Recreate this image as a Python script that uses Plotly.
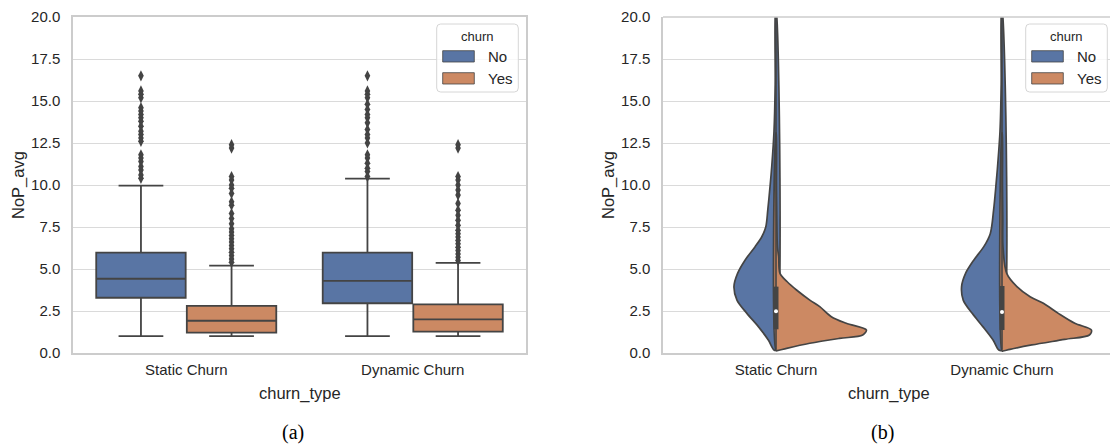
import plotly.graph_objects as go

W, H = 1110, 447

categories = ["Static Churn", "Dynamic Churn"]
hues = ["No", "Yes"]
y_ticks = [0.0, 2.5, 5.0, 7.5, 10.0, 12.5, 15.0, 17.5, 20.0]

# ---- box plot statistics, one value per category ----
no_q1 = [3.29, 2.96]
no_median = [4.42, 4.29]
no_q3 = [5.97, 5.97]
no_lower = [1.0, 1.0]
no_upper = [9.96, 10.38]

yes_q1 = [1.21, 1.27]
yes_median = [1.92, 2.0]
yes_q3 = [2.80, 2.90]
yes_lower = [1.0, 1.0]
yes_upper = [5.2, 5.37]

static_no_outliers = [16.5, 15.6, 15.4, 15.2, 14.6, 14.4, 14.2, 14.0, 13.8, 13.5, 13.2,
                      13.0, 12.8, 12.6, 11.8, 11.6, 11.4, 11.1, 10.9, 10.6, 10.4]
static_yes_outliers = [12.4, 12.2, 10.5, 10.3, 10.0, 9.8, 9.5, 9.0, 8.8, 8.3, 8.0, 7.7,
                       7.4, 7.2, 7.0, 6.8, 6.6, 6.4, 6.2, 6.0, 5.8, 5.6, 5.4]
dynamic_no_outliers = [16.5, 15.6, 15.4, 15.2, 14.8, 14.5, 14.2, 14.0, 13.7, 13.3, 13.0,
                       12.8, 12.5, 11.8, 11.6, 11.3, 11.0, 10.8, 10.5]
dynamic_yes_outliers = [12.4, 12.2, 10.5, 10.3, 10.0, 9.7, 9.4, 8.9, 8.5, 8.2, 7.9, 7.6,
                        7.3, 7.1, 6.9, 6.7, 6.5, 6.3, 6.1, 5.9, 5.7, 5.5]

# ---- split violin density profiles (relative half-width at each level) ----
static_no_levels = [0.18, 0.77, 1.57, 2.36, 3.15, 3.95, 4.74, 5.54, 6.33, 6.92, 7.5, 8.5,
                    9.9, 11.1, 13.2, 16.0, 20.5]
static_no_density = [0.022, 0.085, 0.195, 0.322, 0.432, 0.465, 0.425, 0.341, 0.231, 0.157,
                     0.113, 0.091, 0.066, 0.047, 0.022, 0.009, 0.004]
static_yes_levels = [0.14, 0.28, 0.58, 0.87, 1.07, 1.37, 1.77, 2.16, 2.76, 3.15, 3.75, 4.24,
                     4.74, 5.73, 6.3, 8.0, 10.0, 13.1]
static_yes_density = [0.014, 0.118, 0.374, 0.703, 0.959, 1.0, 0.777, 0.612, 0.484, 0.374,
                      0.227, 0.124, 0.044, 0.030, 0.016, 0.009, 0.005, 0.002]
dynamic_no_levels = [0.18, 0.77, 1.57, 2.36, 3.15, 3.95, 4.74, 5.54, 6.33, 7.12, 8.5, 9.9,
                     11.1, 13.2, 16.0, 20.5]
dynamic_no_density = [0.036, 0.099, 0.212, 0.330, 0.429, 0.447, 0.403, 0.311, 0.201, 0.129,
                      0.093, 0.068, 0.049, 0.022, 0.009, 0.004]
dynamic_yes_levels = [0.12, 0.22, 0.48, 0.81, 1.07, 1.37, 1.77, 2.36, 2.96, 3.35, 3.95, 4.74,
                      6.33, 8.0, 10.0, 13.1]
dynamic_yes_density = [0.011, 0.088, 0.330, 0.692, 0.967, 0.989, 0.805, 0.623, 0.458, 0.311,
                       0.165, 0.052, 0.011, 0.009, 0.005, 0.002]

# inner box of the violins (both hues pooled)
inner_q1 = [1.41, 1.37]
inner_median = [2.48, 2.44]
inner_q3 = [3.95, 3.99]
inner_low = [0.2, 0.2]
inner_high = [21.0, 21.0]

# ---- styling ----
BLUE = "#5975A4"
ORANGE = "#CC8963"
EDGE = "#444444"
SPINE = "#cccccc"
GRID = "#dadada"
TEXT = "#262626"
SANS = "Liberation Sans, Arial, sans-serif"
SERIF = "Liberation Serif, Times New Roman, serif"

HUE_OFFSET = 0.2
BOX_WIDTH = 0.395
VIOLIN_HALF = 0.4


def px(x):
    return x / W


def py(y):
    return 1 - y / H


fig = go.Figure()

# ---------------- (a) box plots ----------------
for hue, color, q1, med, q3, lo, hi, sign in [
    ("No", BLUE, no_q1, no_median, no_q3, no_lower, no_upper, -1),
    ("Yes", ORANGE, yes_q1, yes_median, yes_q3, yes_lower, yes_upper, 1),
]:
    fig.add_trace(go.Box(
        x=[i + sign * HUE_OFFSET for i in range(len(categories))],
        q1=q1, median=med, q3=q3, lowerfence=lo, upperfence=hi,
        width=BOX_WIDTH, whiskerwidth=0.5, boxpoints=False,
        fillcolor=color, line=dict(color=EDGE, width=1.8),
        xaxis="x", yaxis="y", showlegend=False, hoverinfo="skip",
    ))

for center, groups in [(0, [(static_no_outliers, -1), (static_yes_outliers, 1)]),
                       (1, [(dynamic_no_outliers, -1), (dynamic_yes_outliers, 1)])]:
    for vals, sign in groups:
        fig.add_trace(go.Scatter(
            x=[center + sign * HUE_OFFSET] * len(vals), y=vals, mode="markers",
            marker=dict(symbol="diamond-tall", size=8, color=EDGE, line=dict(width=0)),
            xaxis="x", yaxis="y", showlegend=False, hoverinfo="skip",
        ))

# ---------------- (b) split violins ----------------
violins = [
    (0, static_no_levels, static_no_density, -1, BLUE),
    (0, static_yes_levels, static_yes_density, 1, ORANGE),
    (1, dynamic_no_levels, dynamic_no_density, -1, BLUE),
    (1, dynamic_yes_levels, dynamic_yes_density, 1, ORANGE),
]
for center, levels, dens, sign, color in violins:
    xs = [center + sign * VIOLIN_HALF * d for d in dens] + [center, center]
    ys = list(levels) + [levels[-1], levels[0]]
    xs.append(xs[0])
    ys.append(ys[0])
    fig.add_trace(go.Scatter(
        x=xs, y=ys, mode="lines", fill="toself", fillcolor=color,
        line=dict(color=EDGE, width=1.7, shape="spline", smoothing=0.9),
        xaxis="x2", yaxis="y2", showlegend=False, hoverinfo="skip",
    ))

for i in range(len(categories)):
    fig.add_trace(go.Scatter(
        x=[i, i], y=[inner_low[i], inner_high[i]], mode="lines",
        line=dict(color=EDGE, width=1.6), xaxis="x2", yaxis="y2",
        showlegend=False, hoverinfo="skip",
    ))
    fig.add_trace(go.Scatter(
        x=[i, i], y=[inner_q1[i], inner_q3[i]], mode="lines",
        line=dict(color=EDGE, width=5), xaxis="x2", yaxis="y2",
        showlegend=False, hoverinfo="skip",
    ))
    fig.add_trace(go.Scatter(
        x=[i], y=[inner_median[i]], mode="markers",
        marker=dict(color="white", size=4, line=dict(width=0)),
        xaxis="x2", yaxis="y2", showlegend=False, hoverinfo="skip",
    ))

# ---------------- axes ----------------
y_dom = [py(353), py(17)]
common_y = dict(
    range=[0, 20], tickvals=y_ticks, ticktext=[f"{v:.1f}" for v in y_ticks],
    showgrid=True, gridcolor=GRID, gridwidth=1.2, zeroline=False,
    showline=True, linecolor=SPINE, linewidth=1.5,
    ticks="outside", ticklen=8, tickcolor="rgba(0,0,0,0)", automargin=False,
    tickfont=dict(family=SANS, size=15, color=TEXT), fixedrange=True,
)
common_x = dict(
    tickvals=list(range(len(categories))), ticktext=categories,
    showgrid=False, zeroline=False, showline=True, linecolor=SPINE, linewidth=1.5,
    ticks="outside", ticklen=2, tickcolor="rgba(0,0,0,0)", automargin=False,
    tickfont=dict(family=SANS, size=15, color=TEXT), fixedrange=True,
)

fig.update_layout(
    width=W, height=H, margin=dict(l=0, r=0, t=0, b=0, autoexpand=False),
    paper_bgcolor="white", plot_bgcolor="white",
    xaxis=dict(domain=[px(73), px(526)], range=[-0.5, 1.5], anchor="y", mirror=True, **common_x),
    yaxis=dict(domain=y_dom, anchor="x", mirror=True, **common_y),
    xaxis2=dict(domain=[px(663), 1.0], range=[-0.5, 1.5 - 5 / 226], anchor="y2", **common_x),
    yaxis2=dict(domain=y_dom, anchor="x2", **common_y),
)

shapes = [
    # top spine of the right panel
    dict(type="line", xref="paper", yref="paper", x0=px(663), x1=1.0, y0=py(17), y1=py(17),
         line=dict(color=SPINE, width=1.5)),
]
annotations = []


def rounded_rect(x0, y0, x1, y1, r):
    # rounded rectangle path given in pixels, expressed in paper coordinates
    return (
        f"M {px(x0 + r)},{py(y0)} L {px(x1 - r)},{py(y0)} "
        f"Q {px(x1)},{py(y0)} {px(x1)},{py(y0 + r)} "
        f"L {px(x1)},{py(y1 - r)} Q {px(x1)},{py(y1)} {px(x1 - r)},{py(y1)} "
        f"L {px(x0 + r)},{py(y1)} Q {px(x0)},{py(y1)} {px(x0)},{py(y1 - r)} "
        f"L {px(x0)},{py(y0 + r)} Q {px(x0)},{py(y0)} {px(x0 + r)},{py(y0)} Z"
    )


# legends (one per panel)
for lx in [436.7, 1025.7]:
    shapes.append(dict(type="path", xref="paper", yref="paper",
                       path=rounded_rect(lx, 24, lx + 81.6, 92, 4),
                       fillcolor="rgba(255,255,255,0.8)", line=dict(color="#d6d6d6", width=1)))
    annotations.append(dict(x=px(lx + 40.5), y=py(36), xref="paper", yref="paper",
                            text="churn", showarrow=False, xanchor="center", yanchor="middle",
                            font=dict(family=SANS, size=13, color=TEXT)))
    for k, (hue, color) in enumerate(zip(hues, [BLUE, ORANGE])):
        top = 50.7 + k * 22
        shapes.append(dict(type="rect", xref="paper", yref="paper",
                           x0=px(lx + 6), x1=px(lx + 37.6), y0=py(top), y1=py(top + 11.3),
                           fillcolor=color, line=dict(color=EDGE, width=0.8)))
        annotations.append(dict(x=px(lx + 49), y=py(top + 5.8), xref="paper", yref="paper",
                                text=hue, showarrow=False, xanchor="left", yanchor="middle",
                                font=dict(family=SANS, size=15, color=TEXT)))

# axis titles and panel captions
for cx, lx in [(299.5, 18), (889, 608)]:
    annotations.append(dict(x=px(cx), y=py(393), xref="paper", yref="paper", text="churn_type",
                            showarrow=False, xanchor="center", yanchor="middle",
                            font=dict(family=SANS, size=16.5, color=TEXT)))
    annotations.append(dict(x=px(lx), y=py(185), xref="paper", yref="paper", text="NoP_avg",
                            textangle=-90, showarrow=False, xanchor="center", yanchor="middle",
                            font=dict(family=SANS, size=16.5, color=TEXT)))
for cx, label in [(293, "(a)"), (882, "(b)")]:
    annotations.append(dict(x=px(cx), y=py(432), xref="paper", yref="paper", text=label,
                            showarrow=False, xanchor="center", yanchor="middle",
                            font=dict(family=SERIF, size=20, color="black")))

fig.update_layout(shapes=shapes, annotations=annotations)

fig.write_html("out.html")
